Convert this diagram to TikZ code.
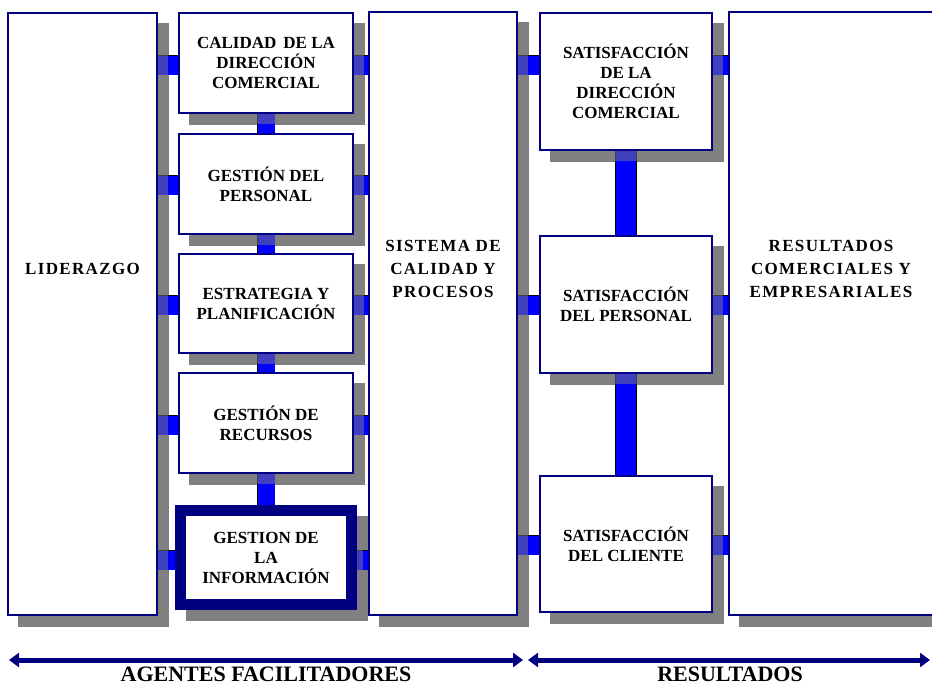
\documentclass[tikz,border=0pt]{standalone}
\usepackage{fontspec}
\setmainfont{Liberation Serif}
\usetikzlibrary{arrows.meta, calc, positioning, shadows, backgrounds}

\definecolor{navy}{RGB}{0,0,128}
\definecolor{shadowgray}{RGB}{128,128,128}

\tikzset{
    box/.style={draw=navy, line width=1.2pt, fill=white, inner sep=0pt,
        minimum width=174pt, minimum height=100pt, align=center,
        font=\fontsize{17}{20}\selectfont\bfseries,
        drop shadow={shadow xshift=11pt, shadow yshift=-11pt, fill=shadowgray, opacity=0.5}},
    bigbox/.style={box, minimum width=149pt, minimum height=602pt},
    bigtext/.style={align=center, font=\fontsize{17}{23}\selectfont\bfseries\addfontfeature{LetterSpace=8}},
    link/.style={draw=black, line width=0.8pt, double=blue, double distance=19pt},
    span/.style={navy, line width=5pt, {Triangle[length=10pt,width=14pt]}-{Triangle[length=10pt,width=14pt]}},
    caption/.style={font=\fontsize{22}{24}\selectfont\bfseries},
}

\begin{document}
\begin{tikzpicture}[x=1pt, y=-1pt]
    \useasboundingbox (0,0) rectangle (932,686);

    % Agentes facilitadores
    \node[bigbox] (lider) at (82.5,314) {};
    \node[bigtext] at ($(lider.north) + (0,257)$) {LIDERAZGO};

    \node[box] (cal) at (266,63) {CALIDAD\, DE LA\\DIRECCIÓN\\COMERCIAL};
    \node[box] (pers) at (266,184) {GESTIÓN DEL\\PERSONAL};
    \node[box, minimum height=99pt] (estr) at (266,303.5) {ESTRATEGIA Y\\PLANIFICACIÓN};
    \node[box] (recu) at (266,423) {GESTIÓN DE\\RECURSOS};
    \node[box, line width=11pt, minimum width=171pt, minimum height=94pt] (info) at (266,557.5) {GESTION DE\\LA\\INFORMACIÓN};

    \node[bigbox, minimum width=148pt, minimum height=603pt] (sist) at (443,313.5) {};
    \node[bigtext] at ($(sist.north) + (0,258)$) {SISTEMA DE\\CALIDAD Y\\PROCESOS};

    % Resultados
    \node[box, minimum width=172pt, minimum height=137pt] (sdir) at (626,81.5) {SATISFACCIÓN\\DE LA\\DIRECCIÓN\\COMERCIAL};
    \node[box, minimum width=172pt, minimum height=137pt] (spers) at (626,304.5) {SATISFACCIÓN\\DEL PERSONAL};
    \node[box, minimum width=172pt, minimum height=136pt] (scli) at (626,544) {SATISFACCIÓN\\DEL CLIENTE};

    \node[bigbox, minimum width=216pt, minimum height=603pt] (result) at (837,313.5) {};
    \node[bigtext] at ($(result.north) + (-6,258)$) {RESULTADOS\\COMERCIALES Y\\EMPRESARIALES};

    % Shadows and links
    \begin{scope}[on background layer]
        \foreach \b in {lider, cal, pers, estr, recu, info, sist, sdir, spers, scli, result}
            \fill[shadowgray] ($(\b.south west) + (11,11)$) rectangle ($(\b.north east) + (11,11)$);
        \foreach \b/\dy in {cal/2, pers/1, estr/1.5, recu/2, info/2.5} {
            \draw[link] ($(lider.east |- \b.west) + (0,\dy)$) -- ($(\b.west) + (0,\dy)$);
            \draw[link] ($(\b.east) + (0,\dy)$) -- ($(sist.west |- \b.east) + (0,\dy)$);
        }
        \foreach \b/\dy in {sdir/-16.5, spers/0.5, scli/1} {
            \draw[link] ($(sist.east |- \b.west) + (0,\dy)$) -- ($(\b.west) + (0,\dy)$);
            \draw[link] ($(\b.east) + (0,\dy)$) -- ($(result.west |- \b.east) + (0,\dy)$);
        }
        \draw[link, double distance=17pt] (cal) -- (pers);
        \draw[link, double distance=17pt] (pers) -- (estr);
        \draw[link, double distance=17pt] (estr) -- (recu);
        \draw[link, double distance=17pt] (recu) -- (info);
        \draw[link, double distance=20pt] (sdir) -- (spers);
        \draw[link, double distance=20pt] (spers) -- (scli);
    \end{scope}

    % Spans
    \coordinate (agl) at (9,660);
    \coordinate (agr) at (523,660);
    \coordinate (resl) at (528,660);
    \coordinate (resr) at (930,660);
    \draw[span] (agl) -- (agr);
    \draw[span] (resl) -- (resr);
    \node[caption] (agtxt) at (266,674) {AGENTES FACILITADORES};
    \node[caption] (restxt) at (730,674) {RESULTADOS};

\end{tikzpicture}
\end{document}
